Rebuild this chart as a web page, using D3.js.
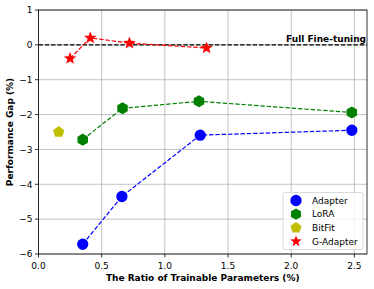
<!DOCTYPE html>
<html><head><meta charset="utf-8">
<script src="https://cdn.jsdelivr.net/npm/d3@7"></script>
<style>body{margin:0;background:#fff}svg{display:block}text{font-family:"DejaVu Sans",sans-serif}</style>
</head><body>
<svg id="c" width="374" height="289"></svg>
<script>
const xTicks=[0,0.5,1.0,1.5,2.0,2.5];
const yTicks=[1,0,-1,-2,-3,-4,-5,-6];
const adapterX=[0.35,0.66,1.28,2.48];
const adapterY=[-5.72,-4.35,-2.59,-2.45];
const loraX=[0.35,0.665,1.27,2.48];
const loraY=[-2.72,-1.82,-1.62,-1.94];
const bitfitX=[0.16];
const bitfitY=[-2.5];
const gadX=[0.25,0.41,0.72,1.33];
const gadY=[-0.39,0.2,0.05,-0.09];
const seriesNames=["Adapter","LoRA","BitFit","G-Adapter"];

const svg=d3.select("#c");
const L=38.5,R=367,T=10,B=254;
const x=d3.scaleLinear().domain([0,2.6]).range([L,R]);
const y=d3.scaleLinear().domain([-6,1]).range([B,T]);
const FS=9;

// grid
svg.append("g").selectAll("line").data(xTicks).join("line")
 .attr("x1",d=>x(d)).attr("x2",d=>x(d)).attr("y1",T).attr("y2",B)
 .attr("stroke","#b0b0b0").attr("stroke-width",0.9).attr("opacity",0.85);
svg.append("g").selectAll("line").data(yTicks).join("line")
 .attr("y1",d=>y(d)).attr("y2",d=>y(d)).attr("x1",L).attr("x2",R)
 .attr("stroke","#b0b0b0").attr("stroke-width",0.9).attr("opacity",0.85);

// zero line
svg.append("line").attr("x1",L).attr("x2",R).attr("y1",y(0)).attr("y2",y(0))
 .attr("stroke","#000").attr("stroke-width",1.2).attr("stroke-dasharray","4.4,1.9");
svg.append("text").attr("x",R-1).attr("y",y(0)-3).attr("text-anchor","end")
 .attr("font-size",FS).attr("font-weight","bold").text("Full Fine-tuning");

const hex={draw(ctx,size){const r=Math.sqrt(size/2.598);for(let i=0;i<6;i++){const a=Math.PI/3*i+Math.PI/6;const px=r*Math.cos(a),py=r*Math.sin(a);i?ctx.lineTo(px,py):ctx.moveTo(px,py);}ctx.closePath();}};
const pent={draw(ctx,size){const r=Math.sqrt(size/2.378);for(let i=0;i<5;i++){const a=-Math.PI/2+2*Math.PI/5*i;const px=r*Math.cos(a),py=r*Math.sin(a);i?ctx.lineTo(px,py):ctx.moveTo(px,py);}ctx.closePath();}};
const star={draw(ctx,size){const r=Math.sqrt(size/1.1);const ri=r*0.42;for(let i=0;i<10;i++){const a=-Math.PI/2+Math.PI/5*i;const rr=i%2?ri:r;const px=rr*Math.cos(a),py=rr*Math.sin(a);i?ctx.lineTo(px,py):ctx.moveTo(px,py);}ctx.closePath();}};

function series(xs,ys,color,shape,size){
  const pts=xs.map((v,i)=>[v,ys[i]]);
  if(pts.length>1){
    svg.append("path").datum(pts).attr("fill","none").attr("stroke",color)
     .attr("stroke-width",1.2).attr("stroke-dasharray","4.4,1.9")
     .attr("d",d3.line().x(d=>x(d[0])).y(d=>y(d[1])));
  }
  svg.append("g").selectAll("path").data(pts).join("path")
   .attr("transform",d=>`translate(${x(d[0])},${y(d[1])})`)
   .attr("d",d3.symbol().type(shape).size(size)).attr("fill",color);
}

series(adapterX,adapterY,"#0000ff",d3.symbolCircle,100);
series(loraX,loraY,"#008000",hex,95);
series(bitfitX,bitfitY,"#bfbf00",pent,85);
series(gadX,gadY,"#ff0000",star,48);

// spines
svg.append("rect").attr("x",L).attr("y",T).attr("width",R-L).attr("height",B-T)
 .attr("fill","none").attr("stroke","#000").attr("stroke-width",0.8);

// ticks
const fmtX=d3.format(".1f");
const gx=svg.append("g");
xTicks.forEach(t=>{
 gx.append("line").attr("x1",x(t)).attr("x2",x(t)).attr("y1",B).attr("y2",B+3.5).attr("stroke","#000").attr("stroke-width",0.8);
 gx.append("text").attr("x",x(t)).attr("y",B+14.5).attr("text-anchor","middle").attr("font-size",FS).text(fmtX(t));
});
yTicks.forEach(t=>{
 gx.append("line").attr("x1",L-3.5).attr("x2",L).attr("y1",y(t)).attr("y2",y(t)).attr("stroke","#000").attr("stroke-width",0.8);
 gx.append("text").attr("x",L-6).attr("y",y(t)+3.3).attr("text-anchor","end").attr("font-size",FS).text(t<0?"\u2212"+(-t):String(t));
});

svg.append("text").attr("x",(L+R)/2).attr("y",280.5).attr("text-anchor","middle")
 .attr("font-size",FS).attr("font-weight","bold").text("The Ratio of Trainable Parameters (%)");
svg.append("text").attr("transform",`translate(13,${(T+B)/2}) rotate(-90)`).attr("text-anchor","middle")
 .attr("font-size",FS).attr("font-weight","bold").text("Performance Gap (%)");

// legend
const lg=svg.append("g");
lg.append("rect").attr("x",283).attr("y",192.5).attr("width",80).attr("height",57).attr("rx",2)
 .attr("fill","#fff").attr("fill-opacity",0.8).attr("stroke","#d0d0d0").attr("stroke-width",0.8);
const legShapes=[[d3.symbolCircle,"#0000ff",100],[hex,"#008000",85],[pent,"#bfbf00",80],[star,"#ff0000",40]];
seriesNames.forEach((n,i)=>{
 const yy=200.5+i*13.6;
 lg.append("path").attr("transform",`translate(296,${yy})`).attr("d",d3.symbol().type(legShapes[i][0]).size(legShapes[i][2])).attr("fill",legShapes[i][1]);
 lg.append("text").attr("x",312).attr("y",yy+3.3).attr("font-size",FS).text(n);
});
</script>
</body></html>
